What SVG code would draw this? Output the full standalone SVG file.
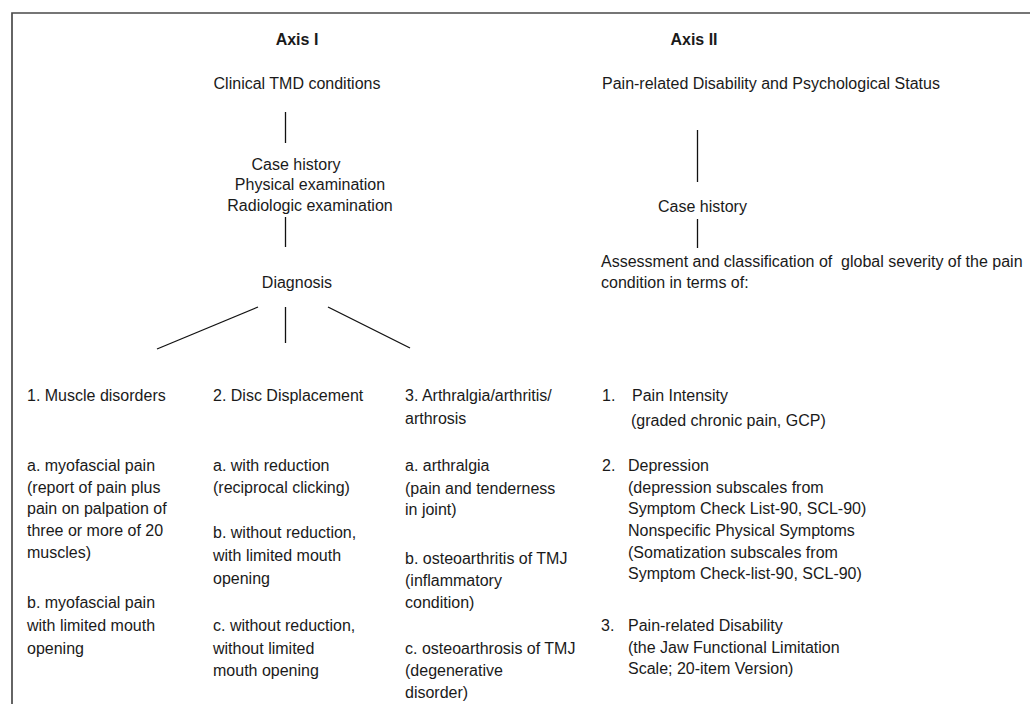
<svg xmlns="http://www.w3.org/2000/svg" width="1030" height="704" viewBox="0 0 1030 704">
<style>
text{font-family:"Liberation Sans",Arial,sans-serif;font-size:16px;fill:#1a1a1a}
.b{font-weight:bold}
.m{text-anchor:middle}
.frame{stroke:#4a4a4a;stroke-width:1.7;fill:none}
.conn line{stroke:#111;stroke-width:1.3}
</style>
<rect width="1030" height="704" fill="#fff"/>
<path class="frame" d="M12 704 V13 H1030"/>
<g id="axis1-title"><text class="b m" x="297" y="45">Axis I</text></g>
<g id="axis2-title"><text class="b m" x="694" y="45">Axis II</text></g>
<g id="clinical"><text class="m" x="297" y="89">Clinical TMD conditions</text></g>
<g id="exams">
<text class="m" x="296" y="170">Case history</text>
<text class="m" x="310" y="190">Physical examination</text>
<text class="m" x="310" y="211">Radiologic examination</text>
</g>
<g id="diagnosis"><text class="m" x="297" y="288">Diagnosis</text></g>
<g id="psych"><text x="602" y="89">Pain-related Disability and Psychological Status</text></g>
<g id="case2"><text x="658" y="212">Case history</text></g>
<g id="assessment">
<text x="601" y="267" xml:space="preserve">Assessment and classification of  global severity of the pain</text>
<text x="601" y="288">condition in terms of:</text>
</g>
<g id="muscle">
<text x="27" y="401">1. Muscle disorders</text>
<text x="27" y="471">a. myofascial pain</text>
<text x="27" y="493">(report of pain plus</text>
<text x="27" y="514">pain on palpation of</text>
<text x="27" y="536">three or more of 20</text>
<text x="27" y="558">muscles)</text>
<text x="27" y="608">b. myofascial pain</text>
<text x="27" y="631">with limited mouth</text>
<text x="27" y="654">opening</text>
</g>
<g id="disc">
<text x="213" y="401">2. Disc Displacement</text>
<text x="213" y="471">a. with reduction</text>
<text x="213" y="493">(reciprocal clicking)</text>
<text x="213" y="538">b. without reduction,</text>
<text x="213" y="561">with limited mouth</text>
<text x="213" y="584">opening</text>
<text x="213" y="631">c. without reduction,</text>
<text x="213" y="654">without limited</text>
<text x="213" y="676">mouth opening</text>
</g>
<g id="arthralgia">
<text x="405" y="401">3. Arthralgia/arthritis/</text>
<text x="405" y="424">arthrosis</text>
<text x="405" y="471">a. arthralgia</text>
<text x="405" y="494">(pain and tenderness</text>
<text x="405" y="515">in joint)</text>
<text x="405" y="564">b. osteoarthritis of TMJ</text>
<text x="405" y="586">(inflammatory</text>
<text x="405" y="608">condition)</text>
<text x="405" y="654">c. osteoarthrosis of TMJ</text>
<text x="405" y="676">(degenerative</text>
<text x="405" y="698">disorder)</text>
</g>
<g id="pain-intensity">
<text x="602" y="401">1.</text>
<text x="632" y="401">Pain Intensity</text>
<text x="631" y="426">(graded chronic pain, GCP)</text>
</g>
<g id="depression">
<text x="602" y="471">2.</text>
<text x="628" y="471">Depression</text>
<text x="628" y="493">(depression subscales from</text>
<text x="628" y="514">Symptom Check List-90, SCL-90)</text>
<text x="628" y="536">Nonspecific Physical Symptoms</text>
<text x="628" y="558">(Somatization subscales from</text>
<text x="628" y="579">Symptom Check-list-90, SCL-90)</text>
</g>
<g id="disability">
<text x="601" y="631">3.</text>
<text x="628" y="631">Pain-related Disability</text>
<text x="628" y="653">(the Jaw Functional Limitation</text>
<text x="628" y="674">Scale; 20-item Version)</text>
</g>
<g id="connectors" class="conn">
<line x1="285.5" y1="112" x2="285.5" y2="143"/>
<line x1="285.5" y1="217" x2="285.5" y2="247"/>
<line x1="258" y1="307" x2="157" y2="349"/>
<line x1="285.5" y1="307" x2="285.5" y2="343"/>
<line x1="328" y1="307" x2="410" y2="348"/>
<line x1="697.5" y1="130" x2="697.5" y2="182"/>
<line x1="697.5" y1="219" x2="697.5" y2="248"/>
</g>
</svg>
